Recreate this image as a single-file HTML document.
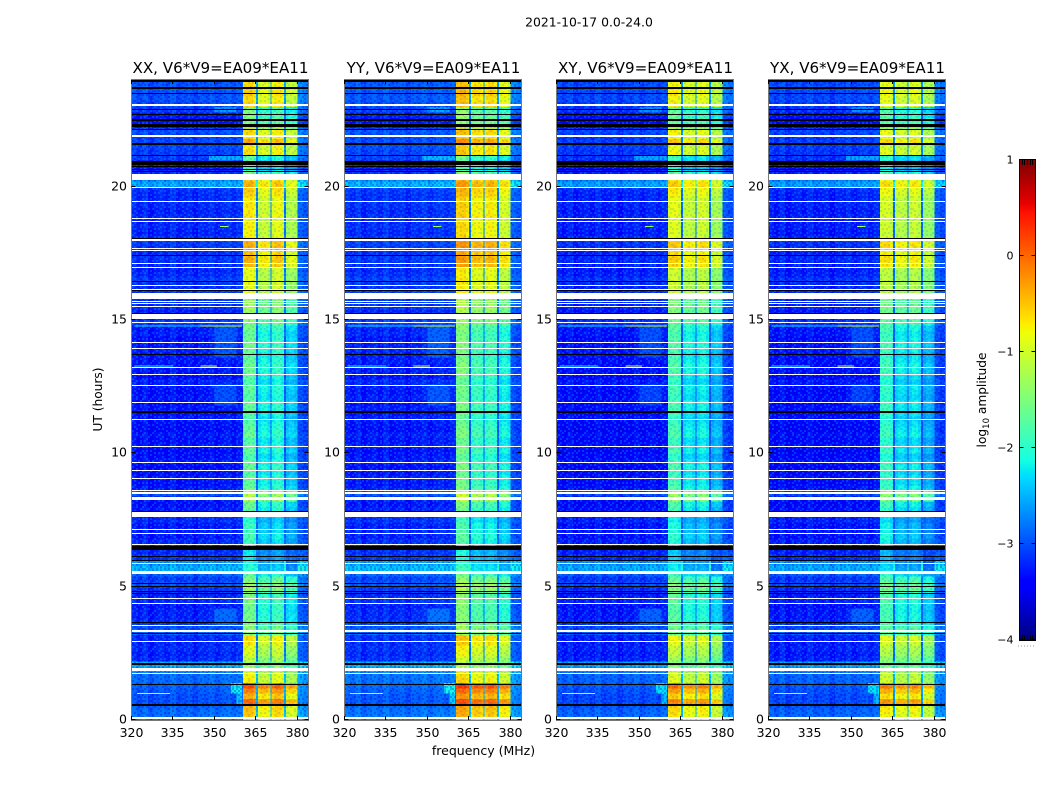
<!DOCTYPE html>
<html lang="en">
<head>
<meta charset="utf-8">
<title>2021-10-17 dynamic spectra</title>
<style>
html,body{margin:0;padding:0;background:#fff;width:1050px;height:800px;overflow:hidden}
svg{display:block;font-family:"DejaVu Sans","Liberation Sans",sans-serif}
</style>
</head>
<body>
<svg id="figure" xmlns="http://www.w3.org/2000/svg" width="1050" height="800" viewBox="0 0 1050 800">
  <defs id="defs"></defs>
  <rect x="0" y="0" width="1050" height="800" fill="#fff"/>
  <text x="589" y="26.5" font-size="12.4" text-anchor="middle" fill="#000">2021-10-17 0.0-24.0</text>
  <text x="483.5" y="755" font-size="12.5" text-anchor="middle" fill="#000">frequency (MHz)</text>
  <text transform="translate(102,399.5) rotate(-90)" font-size="12.2" text-anchor="middle" fill="#000">UT (hours)</text>
  <g id="panels"></g>
  <g id="colorbar"></g>
  <text transform="translate(986,400) rotate(-90)" font-size="12.2" text-anchor="middle" fill="#000">log<tspan font-size="8.5" dy="3">10</tspan><tspan dy="-3"> amplitude</tspan></text>
  <line x1="1018" y1="646" x2="1035" y2="646" stroke="#999" stroke-width="1" stroke-dasharray="1 2"/>
</svg>
<script>
// ---- chart data (log10 amplitude values) ----
const panelTitles = ['XX, V6*V9=EA09*EA11','YY, V6*V9=EA09*EA11','XY, V6*V9=EA09*EA11','YX, V6*V9=EA09*EA11'];
const xTickValues = [320,335,350,365,380];
const yTickValues = [0,5,10,15,20];
const colorbarTicks = [1,0,-1,-2,-3,-4];
const hourStep = 0.2;

// one value per 0.2 h time row, bottom (0 UT) to top (24 UT)
const rowHi = [
 -0.7,-0.65,-0.6,-0.15,-0.55,-0.3,0.0,-0.9,-0.95,-1.2,
 -1.5,-1.3,-1.1,-1.05,-0.85,-0.8,-1.6,-1.6,-1.85,-1.85,
 -1.9,-1.85,-1.8,-1.8,-1.5,-1.5,-1.7,-2.0,-2.3,-2.4,
 -2.5,-2.5,-2.5,-2.2,-2.1,-2.2,-2.2,-2.3,-2.2,-2.0,
 -1.9,-1.4,-1.3,-1.9,-2.0,-1.95,-2.05,-1.9,-2.0,-2.1,
 -1.95,-2.0,-2.05,-1.9,-1.95,-2.0,-2.1,-2.0,-1.95,-1.9,
 -2.05,-2.0,-1.95,-2.1,-2.0,-1.9,-1.85,-1.95,-2.0,-1.9,
 -1.85,-1.9,-1.95,-1.85,-1.7,-1.5,-1.5,-1.45,-1.5,-1.4,
 -1.05,-1.05,-1.0,-1.05,-1.0,-0.6,-0.55,-0.65,-0.5,-0.55,
 -0.9,-0.95,-0.9,-0.95,-0.85,-0.9,-0.85,-0.9,-0.75,-0.7,
 -0.55,-0.7,-1.8,-2.2,-2.2,-2.0,-0.8,-0.85,-0.5,-0.8,
 -0.75,-1.7,-1.7,-1.75,-1.8,-0.75,-0.8,-0.7,-0.75,-0.8
];
const rowBg = [
 -2.8,-2.85,-2.9,-3.0,-3.0,-2.95,-2.9,-2.85,-2.85,-2.6,
 -2.5,-3.2,-3.25,-3.2,-3.25,-3.2,-2.9,-3.0,-3.2,-3.25,
 -3.25,-3.3,-3.2,-3.25,-3.15,-3.0,-3.1,-2.9,-2.45,-2.6,
 -3.15,-3.2,-3.25,-3.2,-3.3,-3.25,-3.3,-3.2,-3.25,-3.3,
 -3.35,-3.3,-3.0,-3.3,-3.35,-3.3,-3.35,-3.4,-3.3,-3.35,
 -3.4,-3.3,-3.35,-3.3,-3.4,-3.35,-3.3,-3.35,-3.3,-3.4,
 -3.3,-3.35,-3.3,-3.25,-3.35,-3.3,-3.35,-3.3,-3.3,-3.25,
 -3.3,-3.35,-3.25,-3.3,-3.1,-3.2,-3.25,-3.2,-3.15,-3.2,
 -3.15,-3.2,-3.1,-3.2,-3.25,-3.2,-3.15,-3.2,-3.15,-3.1,
 -3.2,-3.25,-3.2,-3.25,-3.2,-3.25,-3.2,-3.2,-3.2,-3.15,
 -2.5,-2.7,-3.2,-3.3,-3.3,-3.1,-3.1,-3.05,-3.05,-3.1,
 -3.0,-3.3,-3.35,-3.3,-3.1,-3.05,-3.0,-3.0,-2.95,-3.0
];

// channel starts (MHz); last entry closes the band
const channelEdges = [320,322,324,326,328,330,332,334,336,338,340,342,344,346,348,350,352,354,356,358,360,
 360.4,361.6,362.8,364,365.1,365.8,366.9,368,369.1,370.2,370.7,371.8,372.9,374,375.1,375.8,376.9,378,379,380,382,384];
// 0 background, 1-4 sub-bands, 5 gap, 6 upper edge
const channelKind = [0,0,0,0,0,0,0,0,0,0,0,0,0,0,0,0,0,0,0,0,0,
 1,1,1,1,5,2,2,2,2,5,3,3,3,3,5,4,4,4,4,6,6];
const channelTrim = [.05,-.05,.1,-.1,0,.05,-.05,.1,-.05,0,.05,-.1,.05,0,.1,-.05,.05,.1,0,.1,.1,
 0,.04,.06,-.08,0,-.06,.05,.04,-.06,0,-.06,.05,.04,-.07,0,-.06,.05,.03,-.06,.05,-.05];

// per-polarisation offsets: background, sb1, sb2, sb3, sb4, gap, edge
const xxOffsets = [0,.15,-.15,.05,-.3,.4,.3];
const yyOffsets = [.05,.3,.1,.15,-.1,.4,.3];
const xyOffsets = [-.05,.0,-.2,-.1,-.4,.35,.25];
const yxOffsets = [-.05,-.1,-.25,-.15,-.45,.35,.25];
// extra per-sub-band offset when the band is faint (sb1..sb4)
const faintBandTilt = [.1,-.05,-.12,-.1];

// broad interference patches
const patchHourFrom = [3.6,1.0,0.6,13.6,11.8,21.0,22.8];
const patchHourTo   = [4.2,1.4,1.0,14.8,12.6,21.2,23.0];
const patchFreqFrom = [350,356,358,350,350,348,350];
const patchFreqTo   = [358,360,360,358,358,360,358];
const patchLevel    = [-2.85,-2.2,-2.4,-2.95,-3.0,-2.5,-2.6];

// narrow interference lines
const lineHour     = [14.78,14.78,14.78,13.28,13.28,1.0,18.5];
const lineFreqFrom = [321,334,345,321,345,322,352];
const lineFreqTo   = [334,345,360,335,351,334,355];
const lineLevel    = [-2.2,-2.3,-1.0,-2.2,-1.0,-1.0,-1.3];

// flagged intervals (UT hours)
const whiteFrom = [23.04,21.86,20.25,19.95,19.41,18.79,18.69,17.96,17.66,17.57,17.10,16.95,16.28,16.13,15.79,15.69,15.6,15.49,15.02,14.87,14.14,13.91,13.2,12.94,12.53,11.89,11.25,10.26,9.64,9.34,9.04,8.59,8.49,8.25,7.61,7.13,6.99,6.56,5.85,5.48,4.54,4.35,3.53,3.3,2.94,1.84,1.74,0.09,0.02];
const whiteTo   = [23.10,21.92,20.48,19.99,19.46,18.83,18.73,18.04,17.70,17.61,17.14,16.99,16.31,16.16,16.0,15.73,15.64,15.53,15.24,14.93,14.18,13.95,13.24,12.98,12.58,11.93,11.29,10.29,9.68,9.38,9.08,8.64,8.55,8.36,7.8,7.16,7.03,6.6,5.89,5.59,4.58,4.39,3.56,3.38,2.98,1.95,1.78,0.13,0.06];
const blackFrom = [23.92,23.68,23.47,22.88,22.67,22.48,22.24,22.13,21.56,21.15,20.81,20.72,20.64,20.55,18.04,17.4,16.43,16.09,15.24,13.69,11.53,7.8,6.39,6.11,5.96,5.1,4.97,4.8,4.73,3.62,3.22,2.08,1.31,0.54];
const blackTo   = [24,23.72,23.51,22.93,22.73,22.52,22.35,22.16,21.62,21.2,20.96,20.76,20.68,20.59,18.08,17.44,16.46,16.13,15.28,13.73,11.57,7.84,6.53,6.15,6.0,5.14,5.01,4.84,4.76,3.66,3.26,2.14,1.35,0.6];

const panelOffsets = [xxOffsets,yyOffsets,xyOffsets,yxOffsets];

// hand-drawn grain tile used as a visual overlay on top of the heatmap cells
const grainTile = [
 "a.d.ad..a.d.a..d.a.da.d.",
 ".d.a..da.d..ad.a.d..a.da",
 "d.a.d.a..ad.d.a..ad.d.a.",
 ".a.d..d.a..a.d.da..a.d.d",
 "a.d.a.a.d.d..a..d.a.d.a.",
 "..a.d.d.a.a.d.d.a..d..ad",
 "d.d..a.a.d.d.a.a.d.a.d..",
 ".a.a.d.d..a.a.d..d.d.a.a",
 "d..d.a..a.d.d.a.a..a.d.d",
 ".a.a.d.d.d..a.d.d.a.d..a",
 "a.d..a.a.a.d.a..d.d.a.a.",
 ".d.a.d..d.d.a.d.a..a.d.d",
 "a..d.a.d.a..d.a.d.a.d.a.",
 ".a.d..a.d.a.a.d..d.a..d.",
 "d.a.a.d.a.d.d..a.a.d.a.d",
 ".d..d.a.d..a.a.d.d.a.d.a",
 "a.a.d..a.a.d.d.a..d.a..d",
 ".d.d.a.d.d.a..d.a.a.d.a."
];

// ---- layout & scales ----
const NS = 'http://www.w3.org/2000/svg';
const panelLeft = [131.5,344.5,556.5,768.5];
const panelWidth = 177, plotTop = 80, plotBottom = 720;
const minMHz = 320, maxMHz = 384, maxHour = 24;
const vMin = -4, vMax = 1;
function xScale(left, mhz){ return left + (mhz-minMHz)/(maxMHz-minMHz)*panelWidth; }
function yScale(hour){ return plotBottom - hour/maxHour*(plotBottom-plotTop); }
function ramp(t, pts){
  for(let i=1;i<pts.length;i++){
    if(t<=pts[i][0]){
      const a=pts[i-1],b=pts[i];
      return a[1]+(b[1]-a[1])*(t-a[0])/(b[0]-a[0]);
    }
  }
  return pts[pts.length-1][1];
}
function jet(v){
  const t=Math.max(0,Math.min(1,(v-vMin)/(vMax-vMin)));
  const r=ramp(t,[[0,0],[.35,0],[.66,1],[.89,1],[1,.5]]);
  const g=ramp(t,[[0,0],[.125,0],[.375,1],[.64,1],[.91,0],[1,0]]);
  const b=ramp(t,[[0,.5],[.11,1],[.34,1],[.65,0],[1,0]]);
  return 'rgb('+Math.round(r*255)+','+Math.round(g*255)+','+Math.round(b*255)+')';
}
function make(tag, attrs, parent){
  const el=document.createElementNS(NS,tag);
  for(const k in attrs){ el.setAttribute(k,attrs[k]); }
  parent.appendChild(el);
  return el;
}
function cellValue(p,row,c){
  const off=panelOffsets[p], kind=channelKind[c];
  const hour=row*hourStep, mhz=channelEdges[c];
  let v;
  if(kind===0){ v=rowBg[row]+off[0]+channelTrim[c]; }
  else if(kind>=5){ v=rowBg[row]+off[kind]+channelTrim[c]; }
  else {
    v=rowHi[row]+off[kind]+channelTrim[c];
    if(rowHi[row]<-1.7){ v+=faintBandTilt[kind-1]; }
  }
  if(kind===0){
    for(let i=0;i<patchLevel.length;i++){
      if(hour>=patchHourFrom[i]-1e-6 && hour<patchHourTo[i]-1e-6 && mhz>=patchFreqFrom[i] && mhz<patchFreqTo[i]){
        v=Math.max(v,patchLevel[i]+off[0]);
      }
    }
  }
  return v;
}

// grain overlays
const defs=document.getElementById('defs');
function grainPattern(id, lightColor, darkColor){
  const cell=2;
  const pat=make('pattern',{id:id,patternUnits:'userSpaceOnUse',width:grainTile[0].length*cell,height:grainTile.length*cell},defs);
  grainTile.forEach(function(line,r){
    for(let c=0;c<line.length;c++){
      if(line[c]==='.'){ continue; }
      make('rect',{x:c*cell,y:r*cell,width:cell,height:cell,fill:line[c]==='a'?lightColor:darkColor,'shape-rendering':'crispEdges'},pat);
    }
  });
}
grainPattern('grain-background','rgba(0,120,255,.45)','rgba(0,0,210,.3)');
grainPattern('grain-band','rgba(255,255,120,.1)','rgba(0,90,210,.14)');

const panels=document.getElementById('panels');
panelLeft.forEach(function(left,p){
  const g=make('g',{},panels);
  
  
  const cells=make('g',{'shape-rendering':'crispEdges'},g);
  
  
  for(let r=0;r<rowBg.length;r++){
    const yTop=yScale((r+1)*hourStep), yBot=yScale(r*hourStep);
    for(let c=0;c<channelKind.length;c++){
      const x0=xScale(left,channelEdges[c]), x1=xScale(left,channelEdges[c+1]);
      const cell=make('rect',{x:x0.toFixed(2),y:yTop.toFixed(2),width:(x1-x0+.3).toFixed(2),height:(yBot-yTop+.3).toFixed(2),fill:jet(cellValue(p,r,c))},cells);
      
      
    }
  }
  const xGrainA=xScale(left,minMHz), xGrainB=xScale(left,360.4), xGrainC=xScale(left,380), xGrainD=xScale(left,maxMHz);
  const grainLow=make('rect',{x:xGrainA,y:plotTop,width:xGrainB-xGrainA,height:plotBottom-plotTop,fill:'url(#grain-background)'},cells);
  
  
  const grainBand=make('rect',{x:xGrainB,y:plotTop,width:xGrainC-xGrainB,height:plotBottom-plotTop,fill:'url(#grain-band)'},cells);
  
  
  const grainEdge=make('rect',{x:xGrainC,y:plotTop,width:xGrainD-xGrainC,height:plotBottom-plotTop,fill:'url(#grain-background)'},cells);
  
  
  lineHour.forEach(function(h,i){
    const x0=xScale(left,lineFreqFrom[i]), x1=xScale(left,lineFreqTo[i]);
    const ln=make('rect',{x:x0,y:yScale(h)-.5,width:x1-x0,height:1,fill:jet(lineLevel[i])},cells);
    
    
  });
  blackFrom.forEach(function(h,i){
    const y0=Math.round(yScale(blackTo[i])), y1=Math.round(yScale(h));
    const st=make('rect',{x:left,y:y0,width:panelWidth,height:Math.max(1,y1-y0),fill:'#000'},cells);
    
    
  });
  whiteFrom.forEach(function(h,i){
    const y0=Math.round(yScale(whiteTo[i])), y1=Math.round(yScale(h));
    const st=make('rect',{x:left,y:y0,width:panelWidth,height:Math.max(1,y1-y0),fill:'#fff'},cells);
    
    
  });
  const frame=make('rect',{x:left,y:plotTop-.5,width:panelWidth,height:plotBottom-plotTop+1,fill:'none',stroke:'#777','stroke-width':1,'shape-rendering':'crispEdges'},g);
  
  
  const title=make('text',{x:left+panelWidth/2+.5,y:73,'font-size':15.1,'text-anchor':'middle',fill:'#000'},g);
  title.textContent=panelTitles[p];
  
  
  xTickValues.forEach(function(v){
    const x=Math.floor(xScale(left,v))+.5;
    const t1=make('line',{x1:x,x2:x,y1:plotBottom,y2:plotBottom-4,stroke:'#000'},g);
    
    
    const t2=make('line',{x1:x,x2:x,y1:plotTop,y2:plotTop+4,stroke:'#000'},g);
    
    
    const lb=make('text',{x:x,y:737,'font-size':12.5,'text-anchor':'middle',fill:'#000'},g);
    lb.textContent=String(v);
    
    
  });
  yTickValues.forEach(function(v){
    const y=Math.round(yScale(v))-.5;
    const t1=make('line',{x1:left,x2:left+4,y1:y,y2:y,stroke:'#000'},g);
    
    
    const t2=make('line',{x1:left+panelWidth,x2:left+panelWidth-4,y1:y,y2:y,stroke:'#000'},g);
    
    
    const lb=make('text',{x:left-4.5,y:y+4,'font-size':12.5,'text-anchor':'end',fill:'#000'},g);
    lb.textContent=String(v);
    
    
  });
});

// ---- colorbar ----
const cb=document.getElementById('colorbar');
const cbLeft=1019.5, cbWidth=16, cbTop=160, cbBottom=640;
function cbY(v){ return cbBottom-(v-vMin)/(vMax-vMin)*(cbBottom-cbTop); }
const cbSteps=240;
for(let i=0;i<cbSteps;i++){
  const v0=vMin+(vMax-vMin)*i/cbSteps, v1=vMin+(vMax-vMin)*(i+1)/cbSteps;
  const seg=make('rect',{x:cbLeft,y:cbY(v1),width:cbWidth,height:cbY(v0)-cbY(v1)+.4,fill:jet((v0+v1)/2),'shape-rendering':'crispEdges'},cb);
  
  
}
const cbFrame=make('rect',{x:cbLeft,y:cbTop-.5,width:cbWidth,height:cbBottom-cbTop+1,fill:'none',stroke:'#000','stroke-width':1,'shape-rendering':'crispEdges'},cb);


colorbarTicks.forEach(function(v){
  const y=Math.round(cbY(v))-.5;
  const a=make('line',{x1:cbLeft,x2:cbLeft+4,y1:y,y2:y,stroke:'#000'},cb);
  
  
  const b=make('line',{x1:cbLeft+cbWidth,x2:cbLeft+cbWidth-4,y1:y,y2:y,stroke:'#000'},cb);
  
  
  const lb=make('text',{x:cbLeft-6,y:y+4,'font-size':11,'text-anchor':'end',fill:'#000'},cb);
  lb.textContent=(v<0?'\u2212'+Math.abs(v):String(v));
  
  
});
for(let i=1;i<=5;i++){
  const x=Math.floor(cbLeft+i*cbWidth/6)+.5;
  const topTick=make('line',{x1:x,x2:x,y1:cbTop,y2:cbTop+5,stroke:'#000'},cb);
  
  
  const botTick=make('line',{x1:x,x2:x,y1:cbBottom,y2:cbBottom-5,stroke:'#000'},cb);
  
  
}
</script>
</body>
</html>
